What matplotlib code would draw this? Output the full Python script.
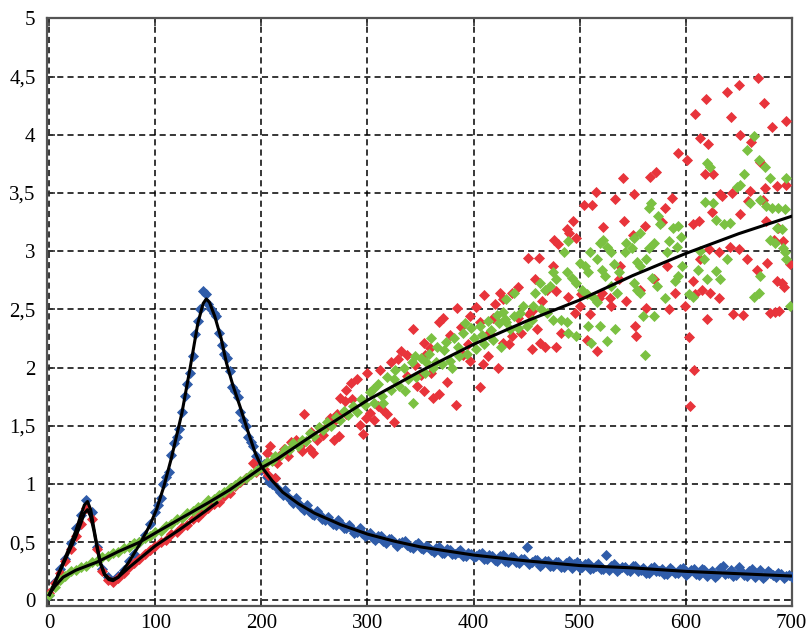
import numpy as np
import matplotlib
matplotlib.use("Agg")
import matplotlib.pyplot as plt

# ---- data ----
# blue series, sampled every 5 units
blue_x = np.arange(0, 701, 5)
blue_y = [0.05, 0.16, 0.27, 0.36, 0.49, 0.62, 0.73, 0.86, 0.76, 0.46, 0.27, 0.20, 0.17,
          0.21, 0.26, 0.34, 0.40, 0.50, 0.56, 0.66, 0.76,
          0.88, 1.06, 1.25, 1.40, 1.62, 1.86, 2.10, 2.40, 2.66, 2.55,
          2.47, 2.30, 2.12, 1.97, 1.80, 1.62, 1.50, 1.36, 1.24, 1.12,
          1.06, 1.00, 0.97, 0.91, 0.89, 0.84, 0.83, 0.78, 0.77, 0.73,
          0.73, 0.69, 0.68, 0.65, 0.66, 0.62, 0.61, 0.59, 0.58, 0.56,
          0.54, 0.55, 0.51, 0.53, 0.50, 0.49, 0.51, 0.46, 0.48, 0.45,
          0.47, 0.43, 0.45, 0.41, 0.44, 0.40, 0.42, 0.38, 0.41, 0.37,
          0.40, 0.36, 0.39, 0.35, 0.38, 0.34, 0.37, 0.33, 0.36, 0.46,
          0.33, 0.35, 0.31, 0.34, 0.30, 0.33, 0.29, 0.34, 0.31, 0.28,
          0.31, 0.27, 0.30, 0.27, 0.39, 0.30, 0.25, 0.29, 0.26, 0.30,
          0.25, 0.28, 0.24, 0.29, 0.25, 0.23, 0.28, 0.24, 0.27, 0.22,
          0.26, 0.23, 0.27, 0.21, 0.25, 0.22, 0.30, 0.24, 0.21, 0.29,
          0.22, 0.25, 0.20, 0.26, 0.21, 0.24, 0.20, 0.23, 0.21, 0.20]

# blue series, in-between samples (x = 102.5 ... 697.5)
blue_x2 = np.arange(102.5, 700, 5)
blue_y2 = [0.82, 1.00, 1.10, 1.35, 1.47, 1.76, 1.95, 2.29, 2.50, 2.63,
           2.50, 2.44, 2.19, 2.08, 1.83, 1.75, 1.55, 1.40, 1.33, 1.18,
           1.17, 1.02, 1.05, 0.93, 0.95, 0.86, 0.88, 0.80, 0.82, 0.74,
           0.77, 0.70, 0.72, 0.66, 0.69, 0.62, 0.65, 0.58, 0.62, 0.55,
           0.58, 0.52, 0.55, 0.49, 0.53, 0.47, 0.50, 0.48, 0.45, 0.49,
           0.44, 0.46, 0.42, 0.46, 0.41, 0.43, 0.40, 0.43, 0.38, 0.40,
           0.38, 0.41, 0.36, 0.38, 0.34, 0.39, 0.33, 0.37, 0.32, 0.36,
           0.31, 0.35, 0.30, 0.34, 0.30, 0.33, 0.29, 0.32, 0.28, 0.33,
           0.29, 0.32, 0.28, 0.31, 0.27, 0.26, 0.31, 0.27, 0.29, 0.25,
           0.30, 0.26, 0.24, 0.28, 0.25, 0.27, 0.23, 0.26, 0.24, 0.28,
           0.24, 0.27, 0.22, 0.26, 0.24, 0.20, 0.28, 0.23, 0.26, 0.22,
           0.25, 0.21, 0.27, 0.23, 0.19, 0.25, 0.22, 0.24, 0.19, 0.22]

# red series, first part sampled every 5 units
red_x1 = np.arange(0, 186, 5)
red_y1 = [0.06, 0.15, 0.24, 0.34, 0.44, 0.55, 0.66, 0.79, 0.70, 0.44, 0.25, 0.18, 0.16,
          0.19, 0.24, 0.29, 0.32, 0.36, 0.40, 0.43, 0.47,
          0.50, 0.52, 0.57, 0.59, 0.63, 0.65, 0.70, 0.72, 0.76, 0.79,
          0.83, 0.85, 0.90, 0.92, 0.98, 1.02, 1.05]

# red series, scattered part
red_pts2 = [
    (192, 1.18), (195, 1.10), (202, 1.13), (205, 1.27), (206, 1.08), (208, 1.33), (211, 1.21),
    (213, 1.05), (215, 1.18), (217, 1.24), (221, 1.30), (225, 1.24), (228, 1.36), (233, 1.38),
    (236, 1.33), (238, 1.28), (240, 1.60),
    (246, 1.30), (247, 1.45), (249, 1.27), (252, 1.38), (255, 1.48), (258, 1.42), (262, 1.50),
    (265, 1.57), (268, 1.54), (268, 1.38), (271, 1.60), (273, 1.41), (274, 1.74), (279, 1.71),
    (280, 1.60), (280, 1.81), (284, 1.87), (285, 1.73), (290, 1.90), (293, 1.51), (296, 1.43),
    (299, 1.57), (300, 1.95), (302, 1.61), (306, 1.55), (310, 1.67), (312, 1.98), (315, 1.64),
    (318, 1.60), (322, 2.05), (325, 1.53), (329, 2.07), (332, 2.14),
    (337, 2.11), (337, 1.93), (343, 2.33), (345, 2.02), (347, 1.84), (350, 1.94), (353, 2.21),
    (353, 1.80), (354, 2.11), (359, 2.17), (360, 1.95), (362, 1.74), (367, 1.77), (367, 2.39),
    (371, 2.43), (375, 1.88), (378, 2.28), (383, 1.68), (384, 2.51), (388, 2.35), (390, 2.11),
    (395, 2.20), (397, 2.06), (397, 2.44), (402, 2.52), (406, 2.39), (406, 1.83),
    (409, 2.03), (410, 2.62), (414, 2.10), (415, 2.30), (418, 2.43), (420, 2.55), (423, 2.00),
    (425, 2.64), (428, 2.59), (428, 2.21), (433, 2.20), (436, 2.27), (436, 2.64), (442, 2.69),
    (442, 2.43), (445, 2.30), (451, 2.94), (452, 2.46), (455, 2.49), (455, 2.16), (458, 2.76),
    (460, 2.33), (462, 2.94), (463, 2.21), (465, 2.57), (467, 2.18), (469, 2.67), (475, 2.87),
    (476, 3.10), (478, 2.66), (478, 2.18), (480, 3.06), (482, 2.30), (488, 3.19), (489, 2.61),
    (490, 3.16), (494, 3.26), (496, 2.47), (497, 3.11), (500, 2.53), (501, 2.63), (504, 3.40),
    (507, 2.24), (510, 2.46), (512, 3.40), (515, 3.51), (516, 2.14), (518, 2.60), (521, 2.64),
    (522, 3.21), (529, 2.60), (530, 2.53), (533, 3.45), (537, 2.76), (538, 2.87), (541, 3.63),
    (542, 3.26), (544, 2.57), (550, 3.14), (551, 3.49), (552, 2.36), (553, 2.27), (557, 2.67),
    (562, 3.22), (563, 2.51), (566, 3.64), (570, 2.76), (572, 3.68), (578, 3.25), (581, 3.37),
    (582, 2.87), (584, 2.50), (587, 3.46), (590, 2.64), (593, 3.84), (599, 2.53), (601, 3.78),
    (603, 2.26), (604, 1.67), (607, 3.23), (607, 2.74), (609, 4.18), (609, 2.63), (608, 1.98),
    (613, 3.26), (614, 3.97), (614, 2.93), (615, 2.67), (618, 3.66), (619, 4.31), (621, 3.92),
    (620, 2.42), (622, 3.02), (623, 2.64), (625, 3.34), (626, 3.66), (631, 2.99), (631, 2.60),
    (632, 3.49), (634, 3.47), (639, 4.37), (642, 3.04), (643, 4.15), (644, 3.50), (645, 2.46),
    (650, 4.43), (650, 3.02), (651, 4.00), (651, 3.32), (654, 2.45), (658, 2.93), (659, 3.43),
    (661, 3.52), (662, 3.94), (667, 2.84), (668, 4.49), (670, 3.77), (673, 3.44), (674, 4.27),
    (675, 3.54), (676, 3.26), (677, 2.90), (680, 2.47), (681, 4.07), (683, 3.10), (684, 2.48),
    (686, 3.56), (686, 2.74), (687, 3.20), (688, 2.49), (691, 2.73), (692, 3.09), (693, 2.69),
    (695, 3.57), (695, 4.12), (698, 2.89),
]

# green series, first part sampled every 5 units
green_x1 = np.arange(0, 201, 5)
green_y1 = [0.05, 0.12, 0.18, 0.21, 0.25, 0.26, 0.29, 0.30, 0.33, 0.34, 0.37, 0.38, 0.41,
            0.42, 0.45, 0.46, 0.49, 0.50, 0.54, 0.55, 0.59, 0.60, 0.64, 0.66, 0.70, 0.71,
            0.75, 0.77, 0.80, 0.82, 0.86, 0.87, 0.91, 0.93, 0.97, 0.99, 1.03, 1.05, 1.09,
            1.11, 1.15]

# green series, scattered part
green_pts2 = [
    (205, 1.19), (210, 1.20), (213, 1.24), (218, 1.25), (222, 1.30), (226, 1.29), (230, 1.35),
    (234, 1.33), (238, 1.38), (242, 1.37), (246, 1.44), (250, 1.41), (254, 1.49), (258, 1.46),
    (262, 1.53), (266, 1.50), (270, 1.58), (274, 1.55), (278, 1.63), (282, 1.59), (286, 1.67),
    (290, 1.62), (294, 1.73), (298, 1.68), (302, 1.79), (305, 1.82), (306, 1.70), (310, 1.86),
    (314, 1.76), (315, 1.70), (318, 1.92), (322, 1.81), (325, 1.90), (326, 1.98), (330, 1.84),
    (334, 2.00), (335, 1.80), (338, 1.90), (342, 2.05),
    (343, 1.70), (345, 2.10), (346, 1.92), (350, 2.08), (354, 1.95), (355, 2.05), (358, 2.12),
    (360, 2.25), (362, 2.00), (365, 2.05), (366, 2.18), (370, 2.03), (372, 2.15), (374, 2.22),
    (378, 2.06), (380, 2.00), (382, 2.25), (385, 2.18), (386, 2.10), (390, 2.30), (392, 2.38),
    (394, 2.12), (398, 2.34), (400, 2.25), (402, 2.16), (406, 2.36), (408, 2.28), (410, 2.20),
    (414, 2.40), (416, 2.32), (418, 2.24), (422, 2.45), (424, 2.38), (426, 2.18), (428, 2.48),
    (430, 2.42),
    (431, 2.39), (434, 2.33), (438, 2.44), (438, 2.64), (431, 2.59), (442, 2.34), (444, 2.47),
    (447, 2.53), (450, 2.36), (455, 2.41), (456, 2.53), (458, 2.64), (463, 2.73), (464, 2.50),
    (467, 2.67), (469, 2.47), (472, 2.70), (475, 2.82), (475, 2.41), (478, 2.76), (482, 2.41),
    (485, 2.99), (488, 2.82), (488, 2.39), (489, 3.09), (489, 2.30), (493, 2.77), (497, 2.73),
    (497, 2.27), (500, 2.90), (502, 2.67), (505, 2.87), (507, 2.63), (508, 2.36), (508, 2.82),
    (510, 2.99), (511, 2.21), (513, 2.61), (516, 2.93), (516, 2.56), (519, 3.07), (519, 2.36),
    (521, 2.84), (522, 3.10), (524, 2.79), (526, 3.04), (526, 2.23), (530, 2.99), (530, 2.70),
    (532, 2.89), (533, 2.33), (535, 2.64), (537, 2.82), (543, 2.99), (544, 3.07), (549, 3.03),
    (551, 3.11), (551, 2.73), (554, 2.91), (554, 2.67), (557, 3.16), (557, 2.87), (557, 2.64),
    (560, 2.44), (562, 2.11), (563, 2.93), (565, 3.03), (565, 3.37), (567, 3.41), (568, 2.77),
    (570, 3.07), (570, 2.44), (573, 2.70), (574, 3.30), (576, 3.23), (581, 2.60), (582, 2.99),
    (584, 3.09), (588, 3.20), (590, 2.74), (592, 3.04), (593, 3.22), (593, 2.79), (596, 3.12),
    (597, 2.87), (603, 2.63), (607, 2.61), (612, 2.84), (614, 3.00), (617, 2.93), (618, 3.42),
    (620, 2.76), (620, 3.76), (623, 3.72), (626, 3.41), (629, 3.27), (629, 2.83), (632, 2.76),
    (636, 3.23), (639, 2.93), (642, 3.24), (648, 3.55), (651, 3.57), (655, 3.66), (658, 3.87),
    (661, 3.41), (664, 2.61), (664, 3.99), (669, 3.78), (669, 2.64), (670, 3.44), (670, 2.79),
    (675, 3.72), (676, 3.39), (680, 3.10), (680, 3.63), (681, 3.37), (684, 3.07), (686, 3.20),
    (687, 3.37), (691, 3.19), (694, 3.36), (695, 3.63), (695, 2.93), (698, 2.53), (692, 3.03),
    (694, 2.99),
]

# black fitted curves
fit_blue_x = [0, 5, 10, 15, 20, 25, 30, 33, 36, 39, 42, 45, 48, 52, 56, 60, 65, 75, 85, 95,
              101, 108, 115, 125, 133, 140, 145, 148, 151, 156, 162, 167, 173, 180, 187, 194,
              200, 210, 220, 235, 250, 275, 300, 325, 350, 400, 450, 500, 550, 600, 650, 700]
fit_blue_y = [0.05, 0.15, 0.26, 0.37, 0.48, 0.60, 0.74, 0.82, 0.85, 0.78, 0.62, 0.47, 0.33,
              0.23, 0.19, 0.18, 0.20, 0.33, 0.48, 0.65, 0.78, 0.98, 1.22, 1.61, 2.01, 2.38,
              2.55, 2.59, 2.56, 2.44, 2.25, 2.04, 1.85, 1.66, 1.46, 1.27, 1.15, 1.03, 0.93,
              0.83, 0.75, 0.65, 0.57, 0.51, 0.46, 0.39, 0.34, 0.30, 0.28, 0.25, 0.23, 0.21]

fit_red_x = [0, 5, 10, 15, 20, 25, 30, 33, 36, 39, 42, 45, 48, 52, 56, 60, 65, 76, 88, 100,
             123, 140, 158]
fit_red_y = [0.05, 0.15, 0.25, 0.35, 0.45, 0.55, 0.67, 0.75, 0.78, 0.72, 0.60, 0.45, 0.32,
             0.22, 0.18, 0.17, 0.20, 0.29, 0.38, 0.47, 0.61, 0.72, 0.84]

fit_green_x = [0, 5, 13, 25, 45, 65, 85, 100, 123, 150, 170, 200, 214, 250, 300, 350, 400,
               450, 500, 550, 600, 650, 700]
fit_green_y = [0.05, 0.12, 0.20, 0.26, 0.33, 0.42, 0.50, 0.58, 0.70, 0.84, 0.95, 1.14, 1.21,
               1.43, 1.72, 1.97, 2.20, 2.40, 2.58, 2.79, 2.98, 3.15, 3.30]

x_ticks = [0, 100, 200, 300, 400, 500, 600, 700]
y_ticks = [0, 0.5, 1, 1.5, 2, 2.5, 3, 3.5, 4, 4.5, 5]
y_tick_labels = ['0', '0,5', '1', '1,5', '2', '2,5', '3', '3,5', '4', '4,5', '5']

BLUE = '#2f5ca9'
RED = '#e8343b'
GREEN = '#7bc142'

plt.rcParams['font.family'] = ['Liberation Serif', 'DejaVu Serif']

fig = plt.figure(figsize=(8.12, 6.33), dpi=100)
ax = fig.add_axes([0.0575, 0.0431, 0.9175, 0.928])

red_x2, red_y2 = np.array(red_pts2).T
green_x2, green_y2 = np.array(green_pts2).T

ms = 32
ax.scatter(blue_x, blue_y, s=ms, marker='D', color=BLUE, linewidths=0, zorder=3)
ax.scatter(blue_x2, blue_y2, s=ms, marker='D', color=BLUE, linewidths=0, zorder=3)
ax.scatter(red_x1, red_y1, s=ms, marker='D', color=RED, linewidths=0, zorder=4)
ax.scatter(red_x2, red_y2, s=ms, marker='D', color=RED, linewidths=0, zorder=4)
ax.scatter(green_x1, green_y1, s=ms, marker='D', color=GREEN, linewidths=0, zorder=5)
ax.scatter(green_x2, green_y2, s=ms, marker='D', color=GREEN, linewidths=0, zorder=5)

ax.plot(fit_blue_x, fit_blue_y, color='black', lw=2.2, zorder=6)
ax.plot(fit_red_x, fit_red_y, color='black', lw=2.2, zorder=6)
ax.plot(fit_green_x, fit_green_y, color='black', lw=2.2, zorder=6)

ax.set_xlim(-2.5, 700)
ax.set_ylim(-0.045, 5)
ax.set_xticks(x_ticks)
ax.set_yticks(y_ticks)
ax.set_yticklabels(y_tick_labels)

ax.grid(True, color='black', lw=1.1, ls=(0, (4, 2.7)), zorder=1)
ax.set_axisbelow(True)

for sp in ax.spines.values():
    sp.set_color('#555555')
    sp.set_linewidth(1.6)

ax.tick_params(direction='in', length=6, width=1.2, color='#333333',
               top=True, right=True, labelsize=15)
ax.tick_params(axis='y', pad=8)
ax.tick_params(axis='x', pad=6)

fig.savefig('out.png', dpi=100)
